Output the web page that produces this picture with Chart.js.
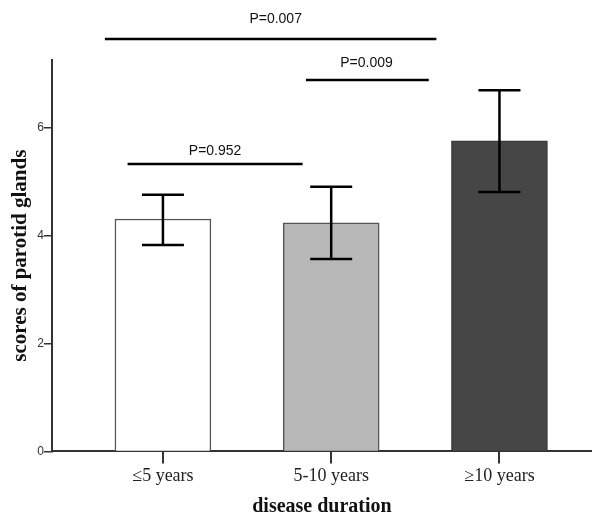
<!DOCTYPE html>
<html>
<head>
<meta charset="utf-8">
<script src="https://cdn.jsdelivr.net/npm/chart.js@4"></script>
<style>
  html, body { margin: 0; padding: 0; background: #fff; }
  #wrap { width: 592px; height: 517px; }
</style>
</head>
<body>
<div id="wrap"><canvas id="myChart"></canvas></div>
<script>
// Chart values
const categories = ['≤5 years', '5-10 years', '≥10 years'];
const means = [4.31, 4.24, 5.76];
const errLow = [3.83, 3.57, 4.81];
const errHigh = [4.76, 4.91, 6.70];
const yTicks = [0, 2, 4, 6];

// significance brackets (x in category units, y in score units)
const pLabels = ['P=0.952', 'P=0.009', 'P=0.007'];
const pFrom = [-0.21, 0.85, -0.345];
const pTo = [0.83, 1.58, 1.625];
const pLevel = [5.33, 6.89, 7.65];
const pTextX = [0.31, 1.21, 0.67];
const pTextLevel = [5.57, 7.20, 8.02];

const barColors = ['#ffffff', '#b8b8b8', '#464646'];
const barBorders = ['#555555', '#555555', '#3a3a3a'];

// draws error bars and the P-value brackets
const extrasPlugin = {
    id: 'extras',
    afterDatasetsDraw(chart) {
        const ctx = chart.ctx;
        const xs = chart.scales.x;
        const ys = chart.scales.y;
        ctx.save();
        ctx.strokeStyle = '#000';
        ctx.lineWidth = 2.5;
        means.forEach((m, i) => {
            const x = xs.getPixelForValue(i);
            const top = ys.getPixelForValue(errHigh[i]);
            const bot = ys.getPixelForValue(errLow[i]);
            ctx.beginPath();
            ctx.moveTo(x, top); ctx.lineTo(x, bot);
            ctx.moveTo(x - 21, top); ctx.lineTo(x + 21, top);
            ctx.moveTo(x - 21, bot); ctx.lineTo(x + 21, bot);
            ctx.stroke();
        });
        ctx.fillStyle = '#111';
        ctx.font = '14px "Liberation Sans", Arial, sans-serif';
        ctx.textAlign = 'center';
        ctx.textBaseline = 'middle';
        pLabels.forEach((label, i) => {
            const y = ys.getPixelForValue(pLevel[i]);
            ctx.beginPath();
            ctx.moveTo(xs.getPixelForValue(pFrom[i]), y);
            ctx.lineTo(xs.getPixelForValue(pTo[i]), y);
            ctx.stroke();
            ctx.fillText(label, xs.getPixelForValue(pTextX[i]), ys.getPixelForValue(pTextLevel[i]));
        });
        ctx.restore();
    }
};

const ctx = document.getElementById('myChart').getContext('2d');
const myChart = new Chart(ctx, {
    type: 'bar',
    data: {
        datasets: [{
            data: means.map((v, i) => ({ x: i, y: v })),
            backgroundColor: barColors,
            borderColor: barBorders,
            borderWidth: 1.5,
            barThickness: 96
        }]
    },
    options: {
        responsive: true,
        maintainAspectRatio: false,
        animation: false,
        layout: { padding: { top: 60, right: 0, left: 8, bottom: 0 } },
        plugins: {
            legend: { display: false },
            tooltip: { enabled: false }
        },
        scales: {
            x: {
                type: 'linear',
                offset: false,
                min: -0.66,
                max: 2.55,
                afterBuildTicks: (scale) => { scale.ticks = [0, 1, 2].map(v => ({ value: v })); },
                grid: { offset: false, drawOnChartArea: false, tickLength: 12, color: '#333', lineWidth: 2 },
                border: { display: true, color: '#333', width: 2 },
                ticks: {
                    color: '#222',
                    padding: 2,
                    font: { family: '"Liberation Serif", "Times New Roman", serif', size: 18 },
                    callback: (v) => categories[v]
                },
                title: {
                    display: true,
                    text: 'disease duration',
                    color: '#111',
                    padding: { top: 8, bottom: 0 },
                    font: { family: '"Liberation Serif", "Times New Roman", serif', size: 20, weight: 'bold', lineHeight: 1 }
                }
            },
            y: {
                min: 0,
                max: 7.26,
                afterBuildTicks: (scale) => { scale.ticks = yTicks.map(v => ({ value: v })); },
                grid: { drawOnChartArea: false, tickLength: 8, color: '#333', lineWidth: 1.5 },
                border: { display: true, color: '#333', width: 2 },
                ticks: {
                    color: '#333',
                    padding: 0,
                    font: { family: '"Liberation Sans", Arial, sans-serif', size: 12 }
                },
                title: {
                    display: true,
                    text: 'scores of parotid glands',
                    color: '#111',
                    padding: { top: 0, bottom: 4 },
                    font: { family: '"Liberation Serif", "Times New Roman", serif', size: 21, weight: 'bold' }
                }
            }
        }
    },
    plugins: [extrasPlugin]
});
</script>
</body>
</html>
